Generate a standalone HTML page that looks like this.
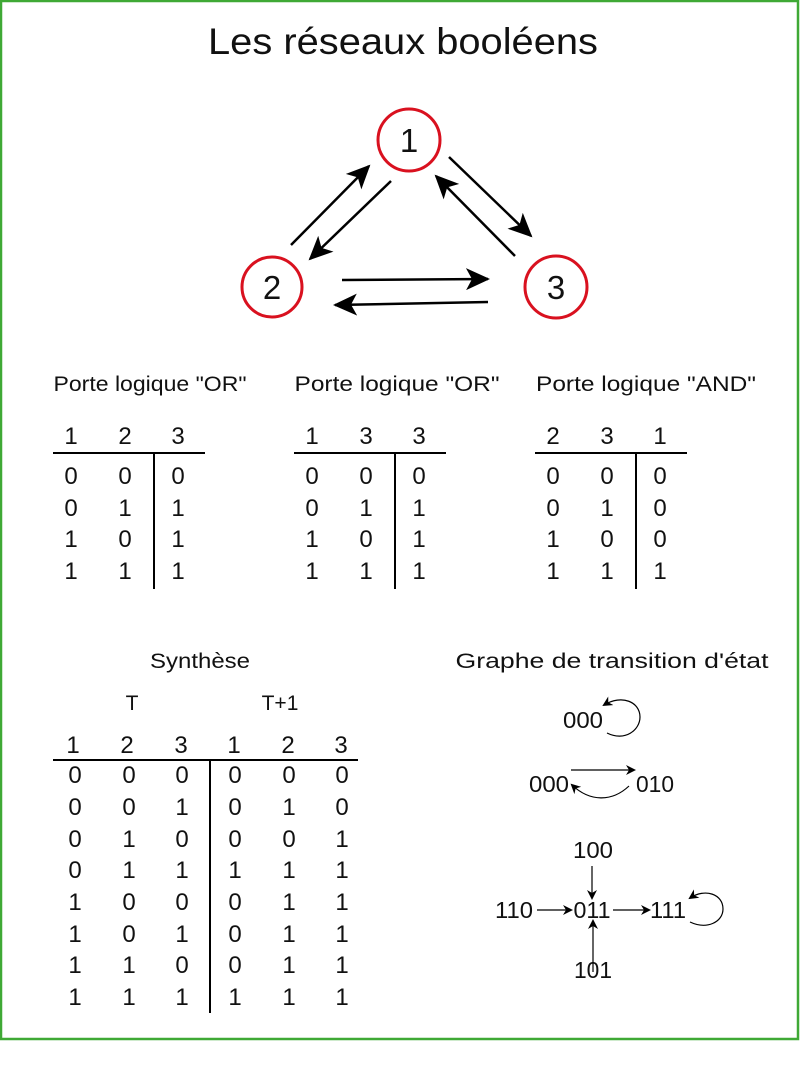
<!DOCTYPE html>
<html><head><meta charset="utf-8"><style>
html,body{margin:0;padding:0;background:#fff;}
svg{display:block;}
text{font-family:"Liberation Sans",sans-serif;fill:#111;}
</style></head><body>
<svg width="800" height="1077" viewBox="0 0 800 1077" xmlns="http://www.w3.org/2000/svg">
<defs>
<marker id="ab" markerWidth="10" markerHeight="10" refX="8" refY="5" orient="auto" markerUnits="userSpaceOnUse">
<path d="M0,0 L10,5 L0,10 L3,5 Z" fill="#000"/></marker>
<marker id="big" markerWidth="24" markerHeight="22" refX="22" refY="11" orient="auto" markerUnits="userSpaceOnUse">
<path d="M0,0 L24,11 L0,22 L6,11 Z" fill="#000"/></marker>
</defs>
<rect x="1" y="1" width="797" height="1038" fill="none" stroke="#3fa935" stroke-width="2.5"/>
<text x="403" y="54" font-size="37" text-anchor="middle" textLength="390" lengthAdjust="spacingAndGlyphs">Les réseaux booléens</text>

<g fill="none" stroke="#d9111f" stroke-width="3">
<circle cx="409" cy="140" r="31"/>
<circle cx="272" cy="287" r="30"/>
<circle cx="556" cy="287" r="31"/>
</g>
<g font-size="33" text-anchor="middle">
<text x="409" y="152">1</text><text x="272" y="299">2</text><text x="556" y="299">3</text>
</g>
<g stroke="#000" stroke-width="2.5" marker-end="url(#big)">
<line x1="291" y1="245" x2="369" y2="166"/>
<line x1="391" y1="181" x2="310" y2="259"/>
<line x1="449" y1="157" x2="531" y2="236"/>
<line x1="515" y1="256" x2="436" y2="176"/>
<line x1="342" y1="280" x2="488" y2="279"/>
<line x1="488" y1="302" x2="335" y2="305"/>
</g>

<g font-size="21">
<text x="150" y="391" text-anchor="middle" textLength="193" lengthAdjust="spacingAndGlyphs">Porte logique "OR"</text>
<text x="397" y="391" text-anchor="middle" textLength="205" lengthAdjust="spacingAndGlyphs">Porte logique "OR"</text>
<text x="646" y="391" text-anchor="middle" textLength="220" lengthAdjust="spacingAndGlyphs">Porte logique "AND"</text>
</g>

<g stroke="#000" stroke-width="2">
<line x1="53" y1="453" x2="205" y2="453"/><line x1="154" y1="452" x2="154" y2="589"/>
<line x1="294" y1="453" x2="446" y2="453"/><line x1="395" y1="452" x2="395" y2="589"/>
<line x1="535" y1="453" x2="687" y2="453"/><line x1="636" y1="452" x2="636" y2="589"/>
<line x1="53" y1="760" x2="358" y2="760"/><line x1="210" y1="760" x2="210" y2="1013"/>
</g>

<g font-size="24" text-anchor="middle">
<text x="71" y="444">1</text><text x="125" y="444">2</text><text x="178" y="444">3</text>
<text x="71" y="484">0</text><text x="125" y="484">0</text><text x="178" y="484">0</text>
<text x="71" y="516">0</text><text x="125" y="516">1</text><text x="178" y="516">1</text>
<text x="71" y="547">1</text><text x="125" y="547">0</text><text x="178" y="547">1</text>
<text x="71" y="579">1</text><text x="125" y="579">1</text><text x="178" y="579">1</text>
<text x="312" y="444">1</text><text x="366" y="444">3</text><text x="419" y="444">3</text>
<text x="312" y="484">0</text><text x="366" y="484">0</text><text x="419" y="484">0</text>
<text x="312" y="516">0</text><text x="366" y="516">1</text><text x="419" y="516">1</text>
<text x="312" y="547">1</text><text x="366" y="547">0</text><text x="419" y="547">1</text>
<text x="312" y="579">1</text><text x="366" y="579">1</text><text x="419" y="579">1</text>
<text x="553" y="444">2</text><text x="607" y="444">3</text><text x="660" y="444">1</text>
<text x="553" y="484">0</text><text x="607" y="484">0</text><text x="660" y="484">0</text>
<text x="553" y="516">0</text><text x="607" y="516">1</text><text x="660" y="516">0</text>
<text x="553" y="547">1</text><text x="607" y="547">0</text><text x="660" y="547">0</text>
<text x="553" y="579">1</text><text x="607" y="579">1</text><text x="660" y="579">1</text>
</g>

<g font-size="21" text-anchor="middle">
<text x="200" y="668" textLength="100" lengthAdjust="spacingAndGlyphs">Synthèse</text>
<text x="132" y="710">T</text>
<text x="280" y="710">T+1</text>
<text x="612" y="668" textLength="313" lengthAdjust="spacingAndGlyphs">Graphe de transition d'état</text>
</g>

<g font-size="24" text-anchor="middle">
<text x="73" y="753">1</text><text x="127" y="753">2</text><text x="181" y="753">3</text><text x="234" y="753">1</text><text x="288" y="753">2</text><text x="341" y="753">3</text>
<text x="75" y="783">0</text><text x="129" y="783">0</text><text x="182" y="783">0</text><text x="235" y="783">0</text><text x="289" y="783">0</text><text x="342" y="783">0</text>
<text x="75" y="815">0</text><text x="129" y="815">0</text><text x="182" y="815">1</text><text x="235" y="815">0</text><text x="289" y="815">1</text><text x="342" y="815">0</text>
<text x="75" y="847">0</text><text x="129" y="847">1</text><text x="182" y="847">0</text><text x="235" y="847">0</text><text x="289" y="847">0</text><text x="342" y="847">1</text>
<text x="75" y="878">0</text><text x="129" y="878">1</text><text x="182" y="878">1</text><text x="235" y="878">1</text><text x="289" y="878">1</text><text x="342" y="878">1</text>
<text x="75" y="910">1</text><text x="129" y="910">0</text><text x="182" y="910">0</text><text x="235" y="910">0</text><text x="289" y="910">1</text><text x="342" y="910">1</text>
<text x="75" y="942">1</text><text x="129" y="942">0</text><text x="182" y="942">1</text><text x="235" y="942">0</text><text x="289" y="942">1</text><text x="342" y="942">1</text>
<text x="75" y="973">1</text><text x="129" y="973">1</text><text x="182" y="973">0</text><text x="235" y="973">0</text><text x="289" y="973">1</text><text x="342" y="973">1</text>
<text x="75" y="1005">1</text><text x="129" y="1005">1</text><text x="182" y="1005">1</text><text x="235" y="1005">1</text><text x="289" y="1005">1</text><text x="342" y="1005">1</text>
</g>

<g font-size="23" text-anchor="middle" lengthAdjust="spacingAndGlyphs">
<text x="583" y="728" textLength="40" lengthAdjust="spacingAndGlyphs">000</text>
<text x="549" y="792" textLength="40" lengthAdjust="spacingAndGlyphs">000</text><text x="655" y="792" textLength="38" lengthAdjust="spacingAndGlyphs">010</text>
<text x="593" y="858" textLength="40" lengthAdjust="spacingAndGlyphs">100</text>
<text x="514" y="918" textLength="38" lengthAdjust="spacingAndGlyphs">110</text><text x="592" y="918" textLength="37" lengthAdjust="spacingAndGlyphs">011</text><text x="668" y="918" textLength="36" lengthAdjust="spacingAndGlyphs">111</text>
<text x="593" y="978" textLength="38" lengthAdjust="spacingAndGlyphs">101</text>
</g>
<g fill="none" stroke="#000" stroke-width="1.2" marker-end="url(#ab)">
<path d="M607,733 C625,742 640,730 640,717 C640,702 622,694 604,705"/>
<line x1="571" y1="770" x2="634" y2="770"/>
<path d="M629,786 C612,802 590,802 572,785"/>
<line x1="592" y1="866" x2="592" y2="898"/>
<line x1="537" y1="910" x2="571" y2="910"/>
<line x1="613" y1="910" x2="649" y2="910"/>
<line x1="593" y1="972" x2="593" y2="921"/>
<path d="M690,922 C707,930 723,922 723,909 C723,894 705,888 690,898"/>
</g>
</svg>
</body></html>
